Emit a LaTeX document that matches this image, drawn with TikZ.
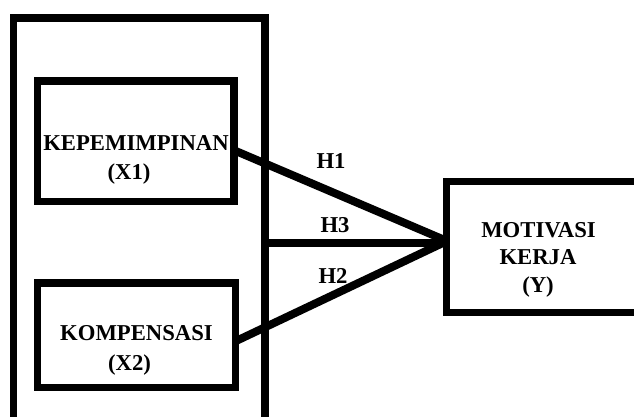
\documentclass[tikz,border=0pt]{standalone}
\usepackage{fontspec}
\setmainfont{Liberation Serif}
\begin{document}
\begin{tikzpicture}[x=1pt,y=-1pt,
  box/.style={draw,line width=7.5pt,inner sep=0pt,outer sep=0pt},
  lbl/.style={font=\fontsize{22.7}{22.7}\selectfont\bfseries,inner sep=0pt,anchor=base},
  link/.style={line width=8pt}]
\useasboundingbox (0,0) rectangle (634,416);
\clip (0,0) rectangle (634,416);

% group frame around the two independent variables
\node[box,anchor=north west,minimum width=251.5pt,minimum height=430pt] (grp) at (13.5,18) {};
% independent variables
\node[box,minimum width=196.5pt,minimum height=120.5pt] (kep) at (135.75,141.25) {};
\node[box,minimum width=198pt,minimum height=104.5pt] (kom) at (136.5,335.25) {};
% dependent variable
\node[box,anchor=north west,minimum width=220pt,minimum height=131pt] (mot) at (446.5,181.5) {};

% texts
\node[lbl] (kept) at (136,150) {KEPEMIMPINAN};
\node[lbl] (x1) at (129,179) {(X1)};
\node[lbl] (komt) at (136.5,340) {KOMPENSASI};
\node[lbl] (x2) at (129.5,370) {(X2)};
\node[lbl] (mott) at (538.5,237) {MOTIVASI};
\node[lbl] (kerja) at (538,264) {KERJA};
\node[lbl] (y) at (538,292) {(Y)};

% connectors
\coordinate (hub) at (447,241);
\coordinate (hubc) at (447,243);
\draw[link] ([yshift=-9pt]kep.east) -- (hub);
\draw[link] ([yshift=-6pt]kom.east) -- (hub);
\draw[link] (grp.east |- hubc) -- (hubc);

% hypothesis labels
\node[lbl] (h1) at (331,168) {H1};
\node[lbl] (h3) at (335,232) {H3};
\node[lbl] (h2) at (333,283) {H2};
\end{tikzpicture}
\end{document}
